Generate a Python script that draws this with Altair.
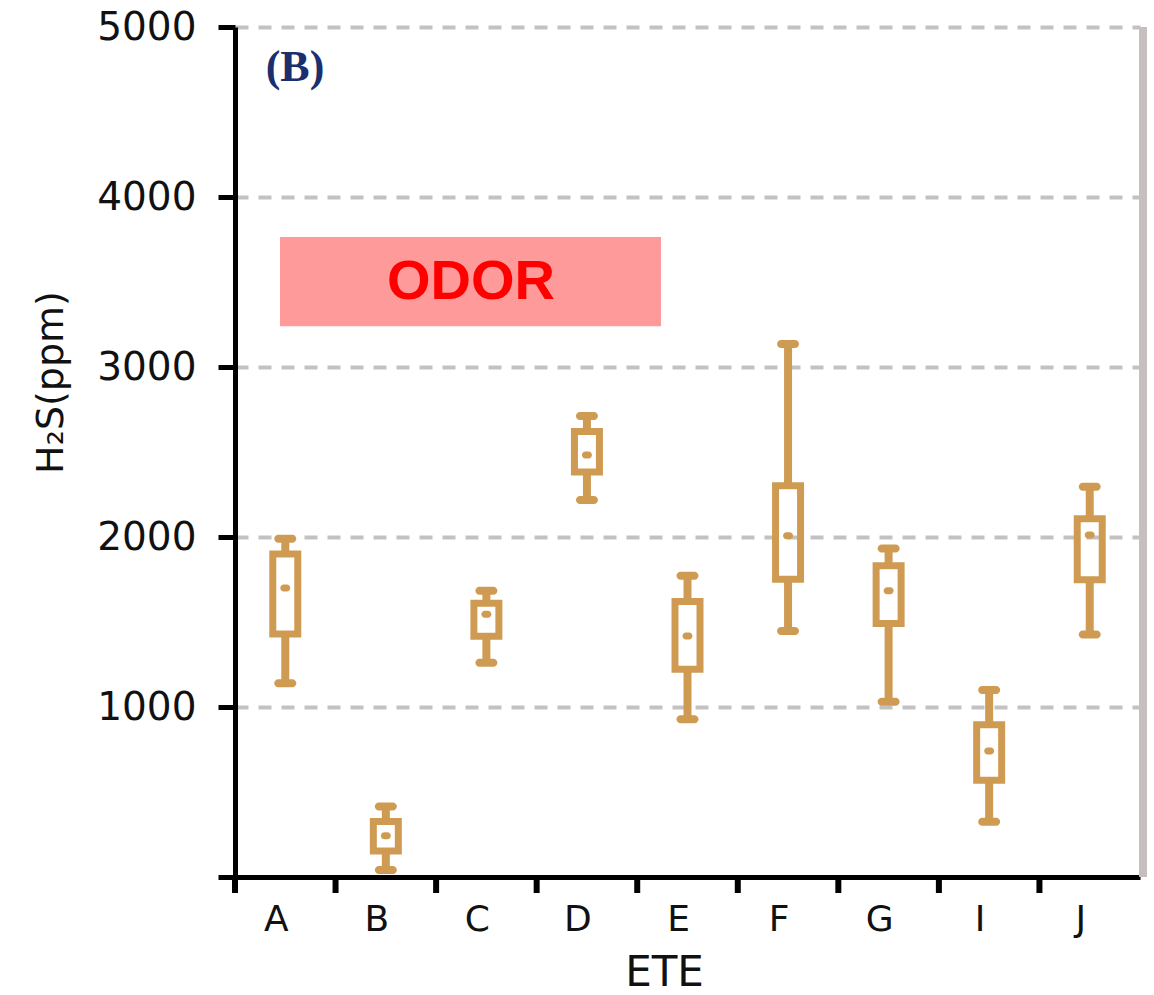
import altair as alt
import pandas as pd

# ---- data ----
cats = ["A", "B", "C", "D", "E", "F", "G", "I", "J"]
max_v = [1990, 415, 1684, 2712, 1772, 3135, 1933, 1100, 2296]
q3_v = [1900, 327, 1611, 2621, 1621, 2302, 1831, 896, 2107]
q1_v = [1430, 153, 1416, 2383, 1222, 1751, 1491, 569, 1749]
min_v = [1140, 41, 1261, 2218, 928, 1447, 1031, 325, 1427]
mean_v = [1700, 243, 1545, 2482, 1418, 2008, 1684, 741, 2012]
y_ticks = [0, 1000, 2000, 3000, 4000, 5000]
odor_low, odor_high = [3240], [3765]
odor_label = ["ODOR"]
panel_label = ["(B)"]

df = pd.DataFrame({"ETE": cats, "max": max_v, "q3": q3_v, "q1": q1_v,
                   "min": min_v, "mean": mean_v})
odor_df = pd.DataFrame({"lo": odor_low, "hi": odor_high, "txt": odor_label,
                        "mid": [(a + b) / 2 for a, b in zip(odor_low, odor_high)]})
lab_df = pd.DataFrame({"txt": panel_label})

BOX = "#cf9b52"
W, H = 905, 850

x_axis = alt.Axis(title="ETE", labelAngle=0, labelFont="DejaVu Sans", labelFontSize=36,
                  labelColor="#111111", labelBaseline="alphabetic", labelPadding=53,
                  labelOffset=-9,
                  ticks=False, tickSize=0, domainColor="#000000", domainWidth=5,
                  titleFont="DejaVu Sans", titleFontSize=42, titleFontWeight="normal",
                  titleColor="#111111", titleX=429, titleY=108, titleBaseline="alphabetic",
                  titleAlign="center", grid=False)
xscale = alt.Scale(paddingInner=0, paddingOuter=0)

y_axis = alt.Axis(title="H\u2082S(ppm)", values=y_ticks, format="d",
                  labelExpr="datum.value == 0 ? '' : datum.label",
                  labelFont="DejaVu Sans",
                  labelFontSize=39, labelColor="#111111", labelPadding=22,
                  tickSize=17, tickWidth=5, tickColor="#000000",
                  domainColor="#000000", domainWidth=5,
                  grid=True, gridColor="#c6c1c1", gridWidth=4, gridDash=[13, 10],
                  titleFont="DejaVu Sans", titleFontSize=38, titleFontWeight="normal",
                  titleColor="#111111", titleX=-173, titleY=355, titleAlign="center",
                  titleBaseline="alphabetic", titleAngle=270)
yscale = alt.Scale(domain=[0, 5000], nice=False, zero=True)


def X(**kw):
    return alt.X("ETE:N", sort=cats, scale=xscale, axis=x_axis, **kw)


def Y(field):
    return alt.Y(field, scale=yscale, axis=y_axis)


base = alt.Chart(df)

# custom category ticks at band starts
ticks = base.mark_rule(color="#000000", strokeWidth=6).encode(
    x=X(bandPosition=0), y=alt.value(H), y2=alt.value(H + 16))

# right border line
border = base.mark_rule(color="#c5bfbf", strokeWidth=7).encode(
    x=alt.value(W + 3), y=alt.value(0), y2=alt.value(H))

# ODOR annotation
odor_rect = alt.Chart(odor_df).mark_rect(color="#ff9a9a").encode(
    x=alt.value(45), x2=alt.value(426), y=Y("lo:Q"), y2="hi:Q")
odor_text = alt.Chart(odor_df).mark_text(
    font="Liberation Sans", fontSize=56, fontWeight="bold", color="#ff0000",
    align="center", baseline="middle").encode(
    x=alt.value(236), y=Y("mid:Q"), text="txt:N")

# panel label
lab_text = alt.Chart(lab_df).mark_text(
    font="Liberation Serif", fontSize=44, fontWeight="bold", color="#1b2f6e",
    align="center", baseline="middle").encode(
    x=alt.value(60), y=alt.value(41), text="txt:N")

# box plots
whisk_lo = base.mark_rule(color=BOX, strokeWidth=8).encode(x=X(), y=Y("min:Q"), y2="q1:Q")
whisk_hi = base.mark_rule(color=BOX, strokeWidth=8).encode(x=X(), y=Y("q3:Q"), y2="max:Q")
cap_lo = base.mark_tick(color=BOX, size=22, thickness=8, cornerRadius=4, opacity=1).encode(
    x=X(), y=Y("min:Q"))
cap_hi = base.mark_tick(color=BOX, size=22, thickness=8, cornerRadius=4, opacity=1).encode(
    x=X(), y=Y("max:Q"))
box = base.mark_bar(width=25, fill="transparent", stroke=BOX, strokeWidth=7).encode(
    x=X(), y=Y("q1:Q"), y2="q3:Q")
dot = base.mark_tick(color=BOX, size=10, thickness=7, cornerRadius=3.5, opacity=1).encode(
    x=X(), y=Y("mean:Q"))

chart = alt.layer(
    odor_rect, odor_text, lab_text,
    whisk_lo, whisk_hi, box, cap_lo, cap_hi, dot, ticks, border
).properties(
    width=W, height=H,
    autosize=alt.AutoSizeParams(type="none"),
    padding={"left": 235, "top": 27, "right": 14, "bottom": 118},
    background="#ffffff",
).configure_view(stroke="transparent")

chart.save("out.html", embed_options={"renderer": "svg", "actions": False})
